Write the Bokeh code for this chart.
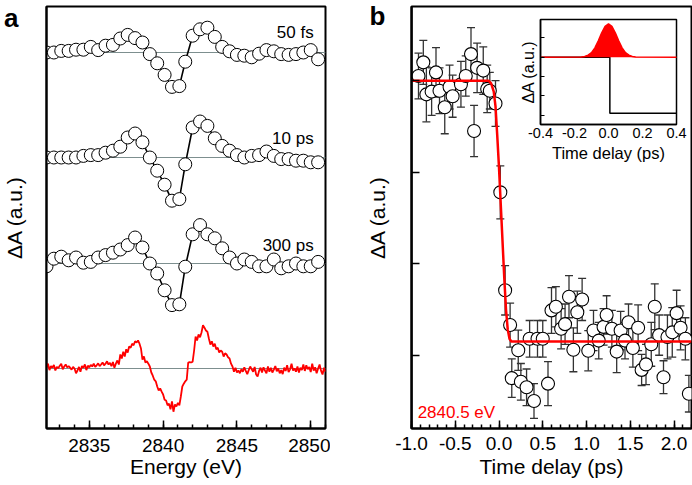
from bokeh.plotting import figure
from bokeh.layouts import row
from bokeh.models import (Range1d, LinearAxis, FixedTicker, Span, Label, Whisker, TeeHead,
                          ColumnDataSource, NumeralTickFormatter, CustomJSTickFormatter)
from bokeh.embed import file_html
from bokeh.resources import INLINE

FONT = "Liberation Sans"
RED = "#ff0000"

# ---------------- panel a data ----------------
energy = [2832.1, 2832.6, 2833.1, 2833.6, 2834.1, 2834.6, 2835.1, 2835.6, 2836.1, 2836.6,
          2837.1, 2837.6, 2838.1, 2838.6, 2839.1, 2839.6, 2840.1, 2840.6, 2841.1, 2841.5,
          2842.0, 2842.5, 2843.0, 2843.5, 2844.0, 2844.5, 2845.0, 2845.5, 2846.0, 2846.5,
          2847.0, 2847.5, 2848.0, 2848.5, 2849.0, 2849.5, 2850.0, 2850.5]
dA_50fs = [0.00, 0.00, 0.04, 0.04, 0.07, 0.07, 0.14, 0.06, 0.17, 0.19,
           0.35, 0.44, 0.36, 0.25, -0.04, -0.27, -0.56, -0.86, -0.84, -0.23,
           0.42, 0.58, 0.62, 0.39, 0.14, 0.03, -0.06, -0.08, -0.12, -0.03,
           0.06, 0.03, -0.04, -0.06, -0.04, 0.00, 0.06, -0.17]
dA_10ps = [0.00, 0.00, 0.00, 0.00, 0.00, 0.04, 0.06, 0.06, 0.12, 0.17,
           0.27, 0.50, 0.60, 0.38, 0.00, -0.33, -0.68, -1.08, -1.04, -0.17,
           0.75, 0.90, 0.79, 0.48, 0.29, 0.17, 0.06, 0.00, 0.04, 0.06,
           0.15, 0.04, -0.04, -0.04, -0.08, -0.08, -0.12, -0.12]
dA_300ps = [-0.07, 0.12, 0.17, 0.08, 0.15, 0.02, 0.04, 0.15, 0.21, 0.27,
            0.35, 0.46, 0.65, 0.40, 0.00, -0.25, -0.67, -1.04, -1.02, -0.08,
            0.73, 0.96, 0.73, 0.63, 0.38, 0.15, 0.00, 0.10, 0.04, -0.07,
            -0.07, 0.10, -0.12, -0.07, 0.00, -0.07, -0.07, 0.04]
delay_labels = ["50 fs", "10 ps", "300 ps"]

energy_calc = [round(2832.1 + 0.1 * i, 1) for i in range(190)]
dA_calc = [0.03, 0.12, -0.04, 0.06, 0.02, 0.09, -0.05, 0.04, 0.01, 0.07,
           0.12, -0.02, 0.05, 0.10, 0.03, 0.06, 0.02, -0.03, 0.04, 0.00,
           -0.12, -0.05, 0.04, -0.08, 0.06, 0.02, 0.10, -0.04, 0.07, 0.03,
           0.09, 0.05, 0.12, 0.04, 0.08, 0.13, 0.06, 0.10, 0.15, 0.08,
           0.12, 0.18, 0.10, 0.14, 0.06, 0.16, 0.02, 0.12, 0.20, 0.10,
           0.35, 0.25, 0.42, 0.30, 0.48, 0.40, 0.55, 0.52, 0.62, 0.58,
           0.68, 0.65, 0.70, 0.62, 0.50, 0.22, 0.30, 0.15, 0.18, 0.12,
           0.05, -0.10, -0.18, -0.28, -0.32, -0.45, -0.55, -0.50, -0.58, -0.65,
           -0.78, -0.80, -0.92, -0.88, -1.02, -0.82, -1.08, -0.90, -0.95, -0.86,
           -0.92, -0.70, -0.45, -0.38, -0.32, -0.28, 0.15, 0.16, 0.15, 0.17,
           0.45, 0.80, 0.70, 0.85, 0.78, 0.90, 1.08, 1.02, 0.95, 0.92,
           0.75, 0.60, 0.68, 0.55, 0.62, 0.48, 0.52, 0.40, 0.45, 0.42,
           0.30, 0.38, 0.35, 0.28, 0.25, 0.12, 0.05, -0.08, 0.02, -0.10,
           -0.05, -0.12, -0.02, -0.08, 0.03, -0.06, -0.14, -0.04, 0.05, -0.02,
           -0.08, 0.04, -0.15, -0.20, -0.06, 0.02, -0.10, 0.03, -0.05, -0.12,
           0.05, -0.08, 0.02, -0.10, -0.03, 0.06, -0.07, 0.00, -0.12, -0.04,
           -0.14, 0.02, -0.06, 0.08, -0.09, -0.02, 0.12, -0.05, 0.00, -0.08,
           0.05, -0.10, 0.02, -0.04, 0.10, -0.06, 0.08, -0.02, 0.04, -0.09,
           0.12, -0.05, 0.03, -0.12, 0.00, 0.10, -0.06, -0.15, 0.02, -0.08]

# ---------------- panel b data ----------------
t_delay = [-0.92, -0.865, -0.83, -0.77, -0.72, -0.68, -0.62, -0.565, -0.53, -0.435,
           -0.38, -0.32, -0.285, -0.25, -0.18, -0.135, -0.105, -0.04, 0.015, 0.07,
           0.127, 0.146, 0.22, 0.25, 0.315, 0.35, 0.40, 0.44, 0.50, 0.56,
           0.60, 0.65, 0.71, 0.755, 0.80, 0.85, 0.895, 0.95, 1.02, 1.08,
           1.14, 1.195, 1.23, 1.29, 1.345, 1.39, 1.44, 1.48, 1.53, 1.59,
           1.63, 1.68, 1.74, 1.78, 1.83, 1.88, 1.925, 1.98, 2.03, 2.075,
           2.13, 2.17]
dA_t = [3.05, 3.20, 2.85, 2.88, 3.09, 2.89, 2.71, 2.93, 2.83, 2.96,
        3.05, 3.29, 2.45, 3.14, 3.11, 2.91, 2.89, 2.75, 1.78, 0.71,
        0.33, -0.25, 0.055, -0.29, -0.35, 0.18, -0.50, 0.18, 0.18, -0.31,
        0.49, 0.53, 0.29, 0.34, 0.64, 0.06, 0.47, 0.61, 0.05, 0.27,
        0.16, 0.31, 0.44, 0.29, 0.04, 0.27, 0.16, 0.36, 0.08, 0.30,
        -0.16, -0.10, 0.12, 0.53, 0.22, -0.24, 0.20, 0.25, 0.46, 0.30,
        0.18, -0.42]
dA_err = [0.25, 0.24, 0.30, 0.26, 0.27, 0.25, 0.29, 0.24, 0.23, 0.25,
          0.22, 0.29, 0.28, 0.27, 0.26, 0.26, 0.20, 0.25, 0.29, 0.27,
          0.24, 0.21, 0.22, 0.20, 0.20, 0.20, 0.19, 0.20, 0.20, 0.24,
          0.25, 0.22, 0.22, 0.22, 0.23, 0.24, 0.23, 0.23, 0.22, 0.22,
          0.20, 0.20, 0.21, 0.20, 0.23, 0.21, 0.20, 0.20, 0.21, 0.25,
          0.17, 0.22, 0.24, 0.25, 0.22, 0.18, 0.24, 0.27, 0.25, 0.24,
          0.23, 0.20]
t_fit = [-1.0, -0.12, -0.09, -0.06, -0.04, -0.02, 0.0, 0.02, 0.04, 0.06,
         0.08, 0.10, 0.12, 0.14, 0.17, 2.2]
dA_fit = [3.0, 3.0, 2.97, 2.88, 2.72, 2.40, 2.05, 1.65, 1.25, 0.85,
          0.50, 0.28, 0.18, 0.15, 0.15, 0.15]

# inset
t_irf = [-0.4, -0.16, -0.14, -0.12, -0.10, -0.08, -0.06, -0.04, -0.02, 0.0,
         0.02, 0.04, 0.06, 0.08, 0.10, 0.12, 0.14, 0.16, 0.4]
irf = [0.0, 0.01, 0.03, 0.10, 0.23, 0.48, 0.84, 1.25, 1.59, 1.72,
       1.59, 1.25, 0.84, 0.48, 0.23, 0.10, 0.03, 0.01, 0.0]
t_step = [-0.4, 0.008, 0.008, 0.4]
step = [0.0, 0.0, -2.89, -2.89]


def style_axis(ax, lab="19px", title="21px"):
    ax.axis_line_color = "black"
    ax.axis_line_width = 2
    ax.major_tick_line_color = "black"
    ax.major_tick_line_width = 1.5
    ax.minor_tick_line_color = "black"
    ax.minor_tick_line_width = 1.5
    ax.major_tick_out = 0
    ax.minor_tick_out = 0
    ax.major_label_text_font = FONT
    ax.major_label_text_font_size = lab
    ax.major_label_text_color = "black"
    ax.axis_label_text_font = FONT
    ax.axis_label_text_font_size = title
    ax.axis_label_text_font_style = "normal"
    ax.axis_label_text_color = "black"


def letter_axis(ax, letter, loc, standoff, label_standoff):
    # left axis that carries the panel letter as its only tick label
    style_axis(ax)
    ax.ticker = FixedTicker(ticks=[loc])
    ax.major_label_overrides = {loc: letter}
    ax.major_label_text_font_size = "26px"
    ax.major_label_text_font_style = "bold"
    ax.major_label_orientation = "horizontal"
    ax.major_tick_in = 0
    ax.minor_tick_in = 0
    ax.major_label_standoff = standoff
    ax.axis_label = "ΔA (a.u.)"
    ax.axis_label_standoff = label_standoff


# ================= panel a =================
pa = figure(width=330, height=485, x_range=Range1d(2832.1, 2851.0), y_range=Range1d(0, 10.55),
            output_backend="svg", toolbar_location=None,
            min_border_left=45, min_border_right=5, min_border_top=6, min_border_bottom=57)
pa.xgrid.grid_line_color = None
pa.ygrid.grid_line_color = None
pa.outline_line_color = "black"
pa.outline_line_width = 2
pa.outline_line_alpha = 1

xa = pa.xaxis[0]
style_axis(xa)
xa.ticker = FixedTicker(ticks=[2835, 2840, 2845, 2850], minor_ticks=list(range(2833, 2852)))
xa.formatter = NumeralTickFormatter(format="0")
xa.major_tick_in = 8
xa.minor_tick_in = 4
xa.major_label_standoff = 10
xa.axis_label = "Energy (eV)"
xa.axis_label_standoff = 0

letter_axis(pa.yaxis[0], "a", 10.39, 28, -25)

offsets = [9.4, 6.775, 4.125]
label_y = [9.9, 7.25, 4.575]
for vals, off, lab, ly in zip([dA_50fs, dA_10ps, dA_300ps], offsets, delay_labels, label_y):
    pa.add_layout(Span(location=off, dimension="width", line_color="#7d8f8f", line_width=1,
                       level="underlay"))
    ys = [v + off for v in vals]
    src = ColumnDataSource(dict(x=energy, y=ys, up=[v + 0.1 for v in ys], lo=[v - 0.1 for v in ys]))
    pa.line("x", "y", source=src, line_color="black", line_width=1.6)
    pa.scatter("x", "y", source=src, marker="circle", size=13, fill_color="white",
               line_color="black", line_width=1)
    pa.add_layout(Whisker(source=src, base="x", upper="up", lower="lo", line_color="black",
                          line_width=0.8,
                          upper_head=TeeHead(size=7, line_color="black", line_width=0.8),
                          lower_head=TeeHead(size=7, line_color="black", line_width=0.8)))
    pa.add_layout(Label(x=2850.2, y=ly, text=lab, text_align="right", text_baseline="middle",
                        text_font=FONT, text_font_size="17px", text_color="black"))

calc_off = 1.5
pa.add_layout(Span(location=calc_off, dimension="width", line_color="#7d8f8f", line_width=1,
                   level="underlay"))
pa.line(energy_calc, [v + calc_off for v in dA_calc], line_color=RED, line_width=1.8)

# ================= panel b =================
pb = figure(width=362, height=485, x_range=Range1d(-1.0, 2.2), y_range=Range1d(-0.8, 3.81),
            output_backend="svg", toolbar_location=None,
            min_border_left=81, min_border_right=1, min_border_top=6, min_border_bottom=57)
pb.xgrid.grid_line_color = None
pb.ygrid.grid_line_color = None
pb.outline_line_color = "black"
pb.outline_line_width = 2
pb.outline_line_alpha = 1

xb = pb.xaxis[0]
style_axis(xb)
xb.ticker = FixedTicker(ticks=[-1.0, -0.5, 0.0, 0.5, 1.0, 1.5, 2.0],
                        minor_ticks=[round(-1.0 + 0.1 * i, 1) for i in range(33)])
xb.formatter = NumeralTickFormatter(format="0.0")
xb.major_tick_in = 8
xb.minor_tick_in = 4
xb.major_label_standoff = 8
xb.axis_label = "Time delay (ps)"
xb.axis_label_standoff = 2

letter_axis(pb.yaxis[0], "b", 3.72, 26, -22)

# tick marks of the main ΔA axis of panel b (drawn inside the frame)
ytk = LinearAxis(fixed_location=-1.0, ticker=FixedTicker(ticks=[0, 1, 2, 3]),
                 formatter=CustomJSTickFormatter(code="return ''"))
style_axis(ytk)
ytk.major_tick_in = 8
ytk.minor_tick_in = 0
ytk.major_label_standoff = 0
pb.add_layout(ytk, "left")

srcb = ColumnDataSource(dict(t=t_delay, y=dA_t,
                             up=[a + b for a, b in zip(dA_t, dA_err)],
                             lo=[a - b for a, b in zip(dA_t, dA_err)]))
pb.add_layout(Whisker(source=srcb, base="t", upper="up", lower="lo", line_color="#333333",
                      line_width=1.3, level="underlay",
                      upper_head=TeeHead(size=8, line_color="#333333", line_width=1.3),
                      lower_head=TeeHead(size=8, line_color="#333333", line_width=1.3)))
pb.scatter("t", "y", source=srcb, marker="circle", size=13, fill_color="white",
           line_color="black", line_width=1.1)
pb.line(t_fit, dA_fit, line_color=RED, line_width=2.5)

pb.add_layout(Label(x=-0.93, y=-0.62, text="2840.5 eV", text_font=FONT, text_font_size="17px",
                    text_color=RED, text_align="left", text_baseline="middle"))

# ---- inset ----
pb.extra_x_ranges = {"ix": Range1d(-1.1588, 0.4882)}
pb.extra_y_ranges = {"iy": Range1d(-19.14, 2.61)}
pb.quad(left=-0.4, right=0.4, bottom=-3.47, top=1.94, fill_color="white", line_color="black",
        line_width=1.5, x_range_name="ix", y_range_name="iy")
pb.line(t_step, step, line_color="black", line_width=1.5, x_range_name="ix", y_range_name="iy")
pb.varea(x=t_irf, y1=[0.0] * len(t_irf), y2=irf, fill_color=RED, x_range_name="ix",
         y_range_name="iy")
pb.line(t_irf, irf, line_color=RED, line_width=1.5, x_range_name="ix", y_range_name="iy")

ixa = LinearAxis(x_range_name="ix", y_range_name="iy", fixed_location=-3.47, bounds=(-0.4, 0.4),
                 ticker=FixedTicker(ticks=[-0.4, -0.2, 0.0, 0.2, 0.4]),
                 formatter=NumeralTickFormatter(format="0.0"), axis_label="Time delay (ps)")
style_axis(ixa, lab="14.5px", title="16.5px")
ixa.axis_line_width = 1.5
ixa.major_tick_in = 0
ixa.minor_tick_in = 0
ixa.major_label_standoff = 4
ixa.axis_label_standoff = 2
pb.add_layout(ixa, "below")

iya = LinearAxis(x_range_name="ix", y_range_name="iy", fixed_location=-0.4, bounds=(-3.47, 1.94),
                 ticker=FixedTicker(ticks=[-3, -2, -1, 0, 1]),
                 formatter=CustomJSTickFormatter(code="return ''"), axis_label="ΔA (a.u.)")
style_axis(iya, lab="14.5px", title="16px")
iya.axis_line_width = 1.5
iya.major_tick_in = 4
iya.minor_tick_in = 0
iya.major_tick_line_width = 1
iya.major_label_standoff = 0
iya.axis_label_standoff = 4
pb.add_layout(iya, "left")

layout = row(pa, pb, spacing=0)
open("out.html", "w").write(file_html(layout, INLINE))
